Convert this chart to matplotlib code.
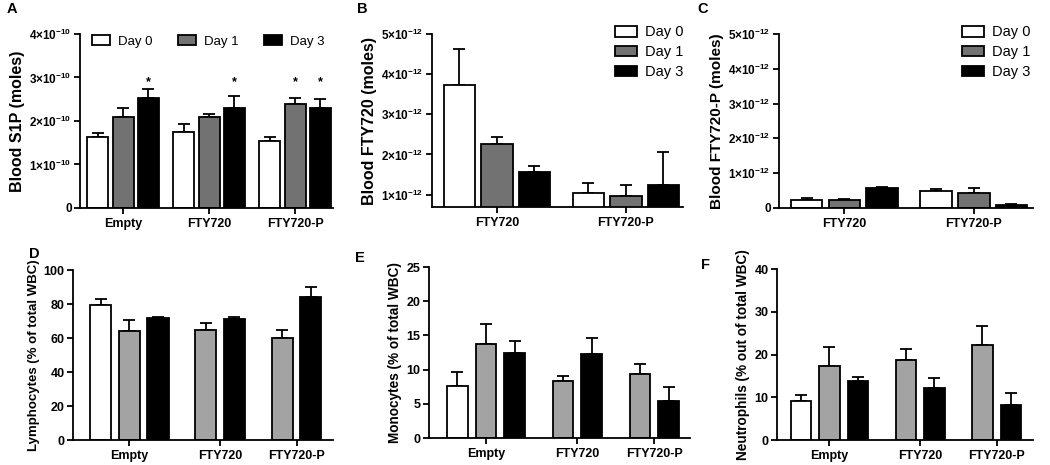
import numpy as np
import matplotlib
matplotlib.use("Agg")
import matplotlib.pyplot as plt
from matplotlib.ticker import FixedLocator, FuncFormatter

plt.rcParams['font.family'] = ['Liberation Sans', 'DejaVu Sans']
plt.rcParams['mathtext.fontset'] = 'custom'
plt.rcParams['mathtext.rm'] = 'Liberation Sans:bold'
plt.rcParams['mathtext.bf'] = 'Liberation Sans:bold'
plt.rcParams['mathtext.it'] = 'Liberation Sans:bold'

# ---------------- data ----------------
days = ['Day 0', 'Day 1', 'Day 3']

cats_A = ['Empty', 'FTY720', 'FTY720-P']
s1p_day0 = [1.63e-10, 1.74e-10, 1.54e-10]
s1p_day1 = [2.10e-10, 2.10e-10, 2.38e-10]
s1p_day3 = [2.54e-10, 2.29e-10, 2.31e-10]
s1p_err0 = [0.10e-10, 0.19e-10, 0.09e-10]
s1p_err1 = [0.19e-10, 0.07e-10, 0.15e-10]
s1p_err3 = [0.19e-10, 0.28e-10, 0.19e-10]
s1p_star = [[False, False, True], [False, False, True], [False, True, True]]
star_y = 2.9e-10

cats_B = ['FTY720', 'FTY720-P']
fty_day0 = [3.72e-12, 1.05e-12]
fty_day1 = [2.25e-12, 0.97e-12]
fty_day3 = [1.55e-12, 1.23e-12]
fty_err0 = [0.91e-12, 0.25e-12]
fty_err1 = [0.18e-12, 0.28e-12]
fty_err3 = [0.17e-12, 0.84e-12]

cats_C = ['FTY720', 'FTY720-P']
ftyp_day0 = [0.24e-12, 0.49e-12]
ftyp_day1 = [0.22e-12, 0.43e-12]
ftyp_day3 = [0.58e-12, 0.10e-12]
ftyp_err0 = [0.05e-12, 0.06e-12]
ftyp_err1 = [0.04e-12, 0.14e-12]
ftyp_err3 = [0.03e-12, 0.02e-12]

cats_WBC = ['Empty', 'FTY720', 'FTY720-P']
lym_day0 = [79.2, np.nan, np.nan]
lym_day1 = [64.0, 65.0, 60.0]
lym_day3 = [71.6, 71.4, 84.0]
lym_err0 = [3.8, np.nan, np.nan]
lym_err1 = [6.6, 4.0, 5.0]
lym_err3 = [0.5, 0.8, 6.0]

mono_day0 = [7.65, np.nan, np.nan]
mono_day1 = [13.8, 8.3, 9.3]
mono_day3 = [12.4, 12.3, 5.35]
mono_err0 = [1.95, np.nan, np.nan]
mono_err1 = [2.8, 0.8, 1.5]
mono_err3 = [1.8, 2.3, 2.15]

neu_day0 = [9.2, np.nan, np.nan]
neu_day1 = [17.4, 18.7, 22.3]
neu_day3 = [13.7, 12.25, 8.2]
neu_err0 = [1.4, np.nan, np.nan]
neu_err1 = [4.3, 2.6, 4.3]
neu_err3 = [1.0, 2.25, 2.9]

# ---------------- styling ----------------
colors_top = ['white', '#727272', 'black']
colors_bot = ['white', '#a3a3a3', 'black']
LW = 1.3
FIG_W, FIG_H = 1050, 465


def px_axes(fig, left, right, top, bottom):
    return fig.add_axes([left / FIG_W, 1 - bottom / FIG_H,
                         (right - left) / FIG_W, (bottom - top) / FIG_H])


def layout(series, gap):
    """slot positions for each (group, series) present, plus group centres"""
    n_groups = len(series[0])
    pos = [[None] * n_groups for _ in series]
    centres = []
    slot = 0.0
    for g in range(n_groups):
        ps = []
        for s in range(len(series)):
            if not np.isnan(series[s][g]):
                pos[s][g] = slot
                ps.append(slot)
                slot += 1
        centres.append(np.mean(ps))
        slot += gap - 1
    return pos, centres


def draw(ax, series, errs, cats, colors, gap, width, xlim, ylim, yticks,
         fmt, ylabel, ylsize, ytsize, stars=None):
    pos, centres = layout(series, gap)
    handles = []
    for s, (vals, ee) in enumerate(zip(series, errs)):
        idx = [g for g in range(len(vals)) if pos[s][g] is not None]
        xs = [pos[s][g] for g in idx]
        vs = [vals[g] for g in idx]
        es = [ee[g] for g in idx]
        b = ax.bar(xs, vs, width=width, color=colors[s], edgecolor='black',
                   linewidth=LW, label=days[s], zorder=2)
        handles.append(b)
        ax.errorbar(xs, vs, yerr=[np.zeros(len(es)), es], fmt='none',
                    ecolor='black', elinewidth=LW, capsize=4.2,
                    capthick=LW, zorder=1)
        if stars is not None:
            for g in idx:
                if stars[g][s]:
                    ax.text(pos[s][g], star_y, '*', ha='center', va='center',
                            fontsize=9, fontweight='bold')
    ax.set_xlim(*xlim)
    ax.set_ylim(*ylim)
    ax.set_xticks(centres)
    ax.set_xticklabels(cats, fontsize=9, fontweight='bold')
    ax.yaxis.set_major_locator(FixedLocator(yticks))
    ax.yaxis.set_major_formatter(FuncFormatter(fmt))
    for lab in ax.get_yticklabels():
        lab.set_fontweight('bold')
        lab.set_fontsize(ytsize)
    ax.tick_params(axis='both', direction='out', length=4, width=LW, pad=2)
    ax.tick_params(axis='x', pad=3)
    ax.spines['top'].set_visible(False)
    ax.spines['right'].set_visible(False)
    ax.spines['left'].set_linewidth(LW)
    ax.spines['bottom'].set_linewidth(LW)
    ax.set_ylabel(ylabel, fontsize=ylsize, fontweight='bold', labelpad=3)
    return handles


def sci(exp):
    def f(v, p):
        if abs(v) < 1e-30:
            return '0'
        m = v / 10 ** exp
        return r'$%d{\times}10^{%d}$' % (round(m), exp)
    return f


def plain(v, p):
    return '%d' % round(v)


fig = plt.figure(figsize=(10.5, 4.65), dpi=100)

# A
axA = px_axes(fig, 80, 333, 34, 208)
hA = draw(axA, [s1p_day0, s1p_day1, s1p_day3], [s1p_err0, s1p_err1, s1p_err3],
          cats_A, colors_top, 1.4, 0.83, (-0.7, 9.3), (0, 4e-10),
          [0, 1e-10, 2e-10, 3e-10, 4e-10], sci(-10), 'Blood S1P (moles)',
          11.5, 8.5, stars=s1p_star)
axA.legend(handles=hA, loc='upper left', bbox_to_anchor=(0.047, 0.995), ncol=3,
           frameon=False, fontsize=9.5, handlelength=1.4, handleheight=0.8,
           columnspacing=1.9, handletextpad=0.6, borderpad=0, borderaxespad=0)

# B
axB = px_axes(fig, 432, 683, 34, 207)
hB = draw(axB, [fty_day0, fty_day1, fty_day3], [fty_err0, fty_err1, fty_err3],
          cats_B, colors_top, 1.44, 0.84, (-0.73, 5.96), (0.69e-12, 5e-12),
          [1e-12, 2e-12, 3e-12, 4e-12, 5e-12], sci(-12), 'Blood FTY720 (moles)',
          11.5, 8.5)
axB.legend(handles=hB, loc='upper left', bbox_to_anchor=(0.729, 1.05), ncol=1,
           frameon=False, fontsize=10.5, handlelength=1.5, handleheight=0.75,
           labelspacing=0.4, handletextpad=0.55, borderpad=0, borderaxespad=0)

# C
axC = px_axes(fig, 779, 1033, 34, 208)
hC = draw(axC, [ftyp_day0, ftyp_day1, ftyp_day3], [ftyp_err0, ftyp_err1, ftyp_err3],
          cats_C, colors_top, 1.42, 0.84, (-0.73, 5.99), (0, 5e-12),
          [0, 1e-12, 2e-12, 3e-12, 4e-12, 5e-12], sci(-12), 'Blood FTY720-P (moles)',
          11.0, 8.5)
axC.legend(handles=hC, loc='upper left', bbox_to_anchor=(0.72, 1.05), ncol=1,
           frameon=False, fontsize=10.5, handlelength=1.5, handleheight=0.75,
           labelspacing=0.4, handletextpad=0.55, borderpad=0, borderaxespad=0)

# D
axD = px_axes(fig, 73, 333, 270, 440)
draw(axD, [lym_day0, lym_day1, lym_day3], [lym_err0, lym_err1, lym_err3],
     cats_WBC, colors_bot, 1.68, 0.74, (-0.98, 8.14), (0, 100),
     [0, 20, 40, 60, 80, 100], plain, 'Lymphocytes (% of total WBC)', 9.5, 9)

# E
axE = px_axes(fig, 429, 690, 267, 438)
draw(axE, [mono_day0, mono_day1, mono_day3], [mono_err0, mono_err1, mono_err3],
     cats_WBC, colors_bot, 1.68, 0.72, (-0.98, 8.1), (0, 25),
     [0, 5, 10, 15, 20, 25], plain, 'Monocytes (% of total WBC)', 9.8, 9)

# F
axF = px_axes(fig, 777, 1033, 269, 440)
draw(axF, [neu_day0, neu_day1, neu_day3], [neu_err0, neu_err1, neu_err3],
     cats_WBC, colors_bot, 1.68, 0.72, (-0.84, 8.14), (0, 40),
     [0, 10, 20, 30, 40], plain, 'Neutrophils (% out of total WBC)', 9.8, 9)

for letter, x, y in [('A', 12, 9), ('B', 362, 9), ('C', 703, 9),
                     ('D', 34, 254), ('E', 360, 258), ('F', 706, 265)]:
    fig.text(x / FIG_W, 1 - y / FIG_H, letter, fontsize=10.5, fontweight='bold',
             ha='center', va='center')

fig.savefig('out.png', dpi=100)
